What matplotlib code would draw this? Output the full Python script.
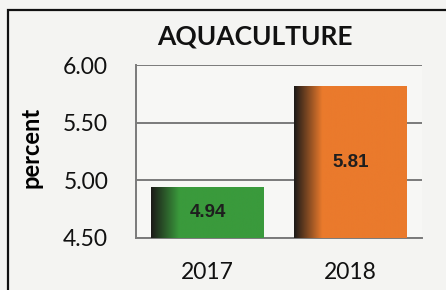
import numpy as np
import matplotlib
matplotlib.use("Agg")
import matplotlib.pyplot as plt
from matplotlib.colors import LinearSegmentedColormap
from matplotlib.patches import Rectangle

# data
years = ["2017", "2018"]
values = [4.94, 5.81]
bar_colors = ["#3a9a3c", "#ea7a2c"]
yticks = [4.50, 5.00, 5.50, 6.00]

fig = plt.figure(figsize=(4.46, 2.90), dpi=100)
fig.patch.set_facecolor("#f4f4f2")

# outer frame (cut off at right/bottom like the scan)
fig.add_artist(Rectangle((8 / 446, -0.05), 1.0, 1 - 10 / 290 + 0.05,
                         transform=fig.transFigure, fill=False,
                         edgecolor="#111111", lw=1.6))

ax = fig.add_axes([136 / 446, 1 - 238 / 290, (422 - 136) / 446, (238 - 65) / 290])
ax.set_facecolor("#f7f7f5")

ymin, ymax = 4.5, 6.0
width = 0.79
x = np.arange(len(years))

# gradient bars: dark at the left edge fading into the fill colour
grad = np.linspace(0, 1, 256)
for i, (v, c) in enumerate(zip(values, bar_colors)):
    cmap = LinearSegmentedColormap.from_list(
        "g%d" % i, [(0, "#1c1a18"), (0.25, c), (1, c)])
    ax.imshow(grad[np.newaxis, :], cmap=cmap, aspect="auto",
              extent=[x[i] - width / 2, x[i] + width / 2, ymin, v], zorder=3)
    ax.text(x[i], ymin + (v - ymin) * 0.5, "%.2f" % v, ha="center", va="center",
            fontsize=13.5, fontweight="bold", color="#1e1e1e",
            family="Liberation Sans", zorder=4)

ax.set_xlim(-0.5, 1.5)
ax.set_ylim(ymin, ymax)
ax.set_yticks(yticks)
ax.set_yticklabels(["%.2f" % t for t in yticks], fontsize=16.5, family="Lato")
ax.set_xticks(x)
ax.set_xticklabels(years, fontsize=16.5, family="Lato")
ax.tick_params(length=0, colors="#111111")
ax.tick_params(axis="y", pad=20)
ax.tick_params(axis="x", pad=17)
ax.yaxis.grid(True, color="#7a7a7a", lw=1.4)
ax.set_axisbelow(True)
for s in ["top", "right"]:
    ax.spines[s].set_visible(False)
for s in ["left", "bottom"]:
    ax.spines[s].set_color("#7a7a7a")
    ax.spines[s].set_linewidth(1.4)

ax.set_ylabel("percent", fontsize=17, fontweight="bold", family="Lato")
ax.yaxis.set_label_coords(42 / 446, 1 - 147 / 290, transform=fig.transFigure)
fig.text(255 / 446, 1 - 36 / 290, "AQUACULTURE", ha="center", va="center",
         fontsize=19, fontweight="bold", family="Lato", color="#111111")

fig.savefig("out.png", dpi=100, facecolor=fig.get_facecolor())
